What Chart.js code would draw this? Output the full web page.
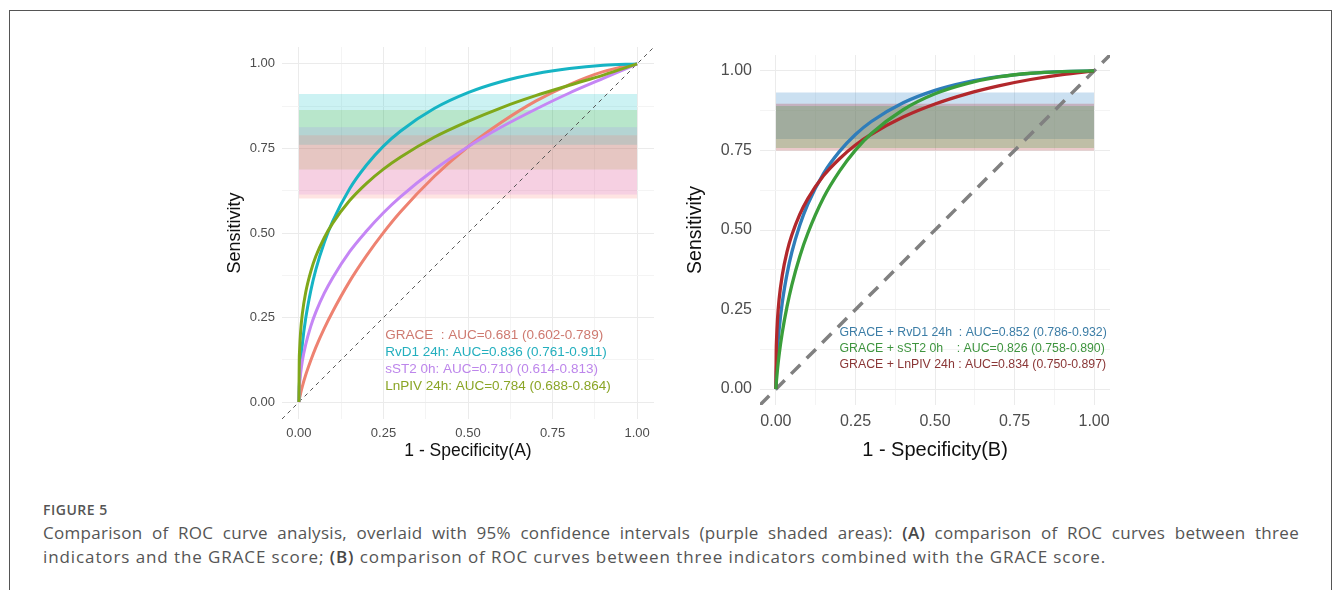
<!DOCTYPE html>
<html><head><meta charset="utf-8">
<script src="https://cdn.jsdelivr.net/npm/chart.js@4.4.1/dist/chart.umd.min.js"></script>
<style>
html,body{margin:0;padding:0;background:#fff;width:1333px;height:590px;overflow:hidden;position:relative;}
#frame{position:absolute;left:9px;top:10px;width:1321px;height:600px;border:1px solid #555;border-bottom:none;}
#wa{position:absolute;left:220px;top:30px;width:450px;height:440px;}
#wb{position:absolute;left:675px;top:30px;width:450px;height:440px;}
#fig{position:absolute;left:43px;top:500px;font:600 14px "Open Sans",sans-serif;color:#555;letter-spacing:0.5px;}
#cap{position:absolute;left:43px;top:521px;width:1256px;font:17px/24px "Open Sans",sans-serif;color:#555;letter-spacing:0.9px;}
#cap .l1{text-align:justify;text-align-last:justify;white-space:nowrap;letter-spacing:0.3px;}
#cap b{font-weight:600;color:#484848;}
</style>
</head><body>
<div id="frame"></div>
<div id="wa"><canvas id="ca" width="450" height="440"></canvas></div>
<div id="wb"><canvas id="cb" width="450" height="440"></canvas></div>
<div id="fig">FIGURE 5</div>
<div id="cap"><div class="l1">Comparison of ROC curve analysis, overlaid with 95% confidence intervals (purple shaded areas): <b>(A)</b> comparison of ROC curves between three</div><div>indicators and the GRACE score; <b>(B)</b> comparison of ROC curves between three indicators combined with the GRACE score.</div></div>
<script>
// ---------- data ----------
const tickValues = [0, 0.25, 0.5, 0.75, 1];
const tickLabels = ['0.00', '0.25', '0.50', '0.75', '1.00'];
const minorTickValues = [0.125, 0.375, 0.625, 0.875];

// Panel A (1 - specificity grid and sensitivity)
const namesA = ['GRACE  ', 'RvD1 24h', 'sST2 0h', 'LnPIV 24h'];
const aucA = [0.681, 0.836, 0.710, 0.784];
const ciLowA = [0.602, 0.761, 0.614, 0.688];
const ciHighA = [0.789, 0.911, 0.813, 0.864];
const fprA = [0, 0.001, 0.002, 0.005, 0.01, 0.02, 0.035, 0.05, 0.075, 0.1, 0.15, 0.2, 0.25, 0.3, 0.4, 0.5, 0.6, 0.7, 0.8, 0.9, 1];
const sensGRACE = [0, 0.007, 0.012, 0.026, 0.046, 0.080, 0.123, 0.162, 0.218, 0.268, 0.357, 0.433, 0.501, 0.562, 0.667, 0.755, 0.828, 0.890, 0.939, 0.977, 1];
const sensRvD1  = [0, 0.043, 0.066, 0.114, 0.170, 0.247, 0.329, 0.392, 0.472, 0.535, 0.631, 0.701, 0.757, 0.801, 0.868, 0.915, 0.948, 0.971, 0.9865, 0.996, 1];
const sensSST2  = [0, 0.037, 0.054, 0.085, 0.121, 0.170, 0.224, 0.266, 0.322, 0.368, 0.445, 0.506, 0.560, 0.607, 0.687, 0.755, 0.814, 0.866, 0.914, 0.957, 1];
const sensLnPIV = [0, 0.121, 0.153, 0.208, 0.260, 0.324, 0.386, 0.431, 0.486, 0.529, 0.596, 0.647, 0.689, 0.724, 0.783, 0.830, 0.871, 0.906, 0.937, 0.967, 1];

// Panel B
const namesB = ['GRACE + RvD1 24h  ', 'GRACE + sST2 0h    ', 'GRACE + LnPIV 24h '];
const aucB = [0.852, 0.826, 0.834];
const ciLowB = [0.786, 0.758, 0.750];
const ciHighB = [0.932, 0.890, 0.897];
const fprB = [0, 0.001, 0.002, 0.005, 0.01, 0.02, 0.035, 0.05, 0.075, 0.1, 0.15, 0.2, 0.25, 0.3, 0.4, 0.5, 0.6, 0.7, 0.8, 0.9, 1];
const sensBRvD1  = [0, 0.045, 0.070, 0.124, 0.186, 0.272, 0.362, 0.430, 0.515, 0.581, 0.678, 0.747, 0.800, 0.841, 0.900, 0.939, 0.965, 0.982, 0.9925, 0.998, 1];
const sensBSST2  = [0, 0.017, 0.030, 0.063, 0.108, 0.178, 0.260, 0.327, 0.417, 0.489, 0.602, 0.685, 0.751, 0.803, 0.878, 0.928, 0.960, 0.981, 0.9926, 0.998, 1];
const sensBLnPIV = [0, 0.119, 0.155, 0.219, 0.282, 0.358, 0.432, 0.484, 0.549, 0.598, 0.671, 0.724, 0.767, 0.801, 0.855, 0.896, 0.928, 0.953, 0.973, 0.9885, 1];

// ---------- helpers ----------
const FONT = '"Liberation Sans", Arial, sans-serif';
const pts = (xs, ys) => xs.map((x, i) => ({x: x, y: ys[i]}));
const fmt = v => v.toFixed(3);

function curve(label, xs, ys, color, width, order) {
  return {label, data: pts(xs, ys), borderColor: color, borderWidth: width, pointRadius: 0,
    fill: false, cubicInterpolationMode: 'monotone', order};
}
function band(lo, hi, color, order) {
  return {label: 'ci', data: [{x: 0, y: hi}, {x: 1, y: hi}], borderWidth: 0, borderColor: 'rgba(0,0,0,0)',
    pointRadius: 0, backgroundColor: color, fill: {value: lo}, order};
}
function diag(color, width, dash, order) {
  return {label: 'diag', data: [{x: -0.05, y: -0.05}, {x: 1.05, y: 1.05}], borderColor: color,
    borderWidth: width, borderDash: dash, pointRadius: 0, fill: false, order};
}
function textPlugin(lines, colors, ax, ay, font, step) {
  return {
    id: 'aucText',
    afterDatasetsDraw(chart) {
      const {ctx, scales: {x, y}} = chart;
      ctx.save();
      ctx.font = font;
      ctx.textBaseline = 'middle';
      ctx.textAlign = 'left';
      const px = x.getPixelForValue(ax), py = y.getPixelForValue(ay);
      lines.forEach((t, i) => { ctx.fillStyle = colors[i]; ctx.fillText(t, px, py + i * step); });
      ctx.restore();
    }
  };
}
function axes(o) {
  const allTicks = tickValues.concat(minorTickValues).sort((a, b) => a - b);
  const gridColor = c => (c.tick && tickValues.includes(c.tick.value)) ? '#ebebeb' : '#f4f4f4';
  const lbl = v => { const i = tickValues.indexOf(v); return i >= 0 ? tickLabels[i] : ''; };
  return {
    x: {type: 'linear', min: -0.05, max: 1.05,
      afterBuildTicks: s => { s.ticks = allTicks.map(v => ({value: v})); },
      afterFit: s => { s.height = o.xh; },
      ticks: {autoSkip: false, maxRotation: 0, padding: o.xpad, color: '#4d4d4d',
        font: {family: FONT, size: o.tick}, callback: lbl},
      grid: {color: gridColor, lineWidth: 1, drawTicks: false},
      border: {display: false},
      title: {display: true, text: o.xtitle, color: '#111', font: {family: FONT, size: o.xts},
        padding: {top: 0, bottom: o.xtp}}
    },
    y: {type: 'linear', min: -0.05, max: 1.05,
      afterBuildTicks: s => { s.ticks = allTicks.map(v => ({value: v})); },
      afterFit: s => { s.width = o.yw; },
      ticks: {autoSkip: false, padding: o.ypad, color: '#4d4d4d',
        font: {family: FONT, size: o.tick}, callback: lbl},
      grid: {color: gridColor, lineWidth: 1, drawTicks: false},
      border: {display: false},
      title: {display: true, text: 'Sensitivity', color: '#111', font: {family: FONT, size: o.yts},
        padding: {top: o.ytp, bottom: 0}}
    }
  };
}
const common = {responsive: false, animation: false, events: [], devicePixelRatio: 1,
  plugins: {legend: {display: false}, tooltip: {enabled: false}}};

// ---------- Panel A ----------
const colA = ['#EE8271', '#16B4C4', '#C586F5', '#80A81A'];
const bandA = ['rgba(248,118,109,0.2)', 'rgba(0,191,196,0.2)', 'rgba(199,124,255,0.2)', 'rgba(124,174,0,0.2)'];
const txtA = ['#CE7A70', '#23AFBE', '#BD86EB', '#8AA526'];
const seriesA = [sensGRACE, sensRvD1, sensSST2, sensLnPIV];
const dsA = [];
seriesA.forEach((s, i) => dsA.push(curve(namesA[i], fprA, s, colA[i], 3, 3 - i)));
dsA.push(diag('#555', 1, [4, 4], 5));
ciLowA.forEach((lo, i) => dsA.push(band(lo, ciHighA[i], bandA[i], 10 + i)));
new Chart(document.getElementById('ca'), {
  type: 'line',
  data: {datasets: dsA},
  options: Object.assign({}, common, {
    layout: {padding: {left: 0, top: 17, right: 16, bottom: 0}},
    scales: axes({xh: 51, yw: 62, xpad: 7, ypad: 7, tick: 13, xtitle: '1 - Specificity(A)', xts: 17.5, xtp: 8, yts: 18, ytp: 4})
  }),
  plugins: [textPlugin(namesA.map((n, i) => n + ': AUC=' + fmt(aucA[i]) + ' (' + fmt(ciLowA[i]) + '-' + fmt(ciHighA[i]) + ')'),
    txtA, 0.255, 0.198, '13.5px ' + FONT, 17)]
});

// ---------- Panel B ----------
const colB = ['#2F7DBA', '#3A9E3A', '#B2282C'];
const bandB = ['rgba(49,130,200,0.25)', 'rgba(58,158,58,0.25)', 'rgba(176,40,44,0.25)'];
const txtB = ['#3C7DA6', '#3E943E', '#8A3636'];
const seriesB = [sensBRvD1, sensBSST2, sensBLnPIV];
const orderB = [2, 0, 1];
const bandOrderB = [12, 10, 11];
const dsB = [];
seriesB.forEach((s, i) => dsB.push(curve(namesB[i], fprB, s, colB[i], 3.3, orderB[i])));
dsB.push(diag('#808080', 3.5, [13, 9], 5));
ciLowB.forEach((lo, i) => dsB.push(band(lo, ciHighB[i], bandB[i], bandOrderB[i])));
new Chart(document.getElementById('cb'), {
  type: 'line',
  data: {datasets: dsB},
  options: Object.assign({}, common, {
    layout: {padding: {left: 0, top: 25, right: 15, bottom: 0}},
    scales: axes({xh: 65, yw: 85, xpad: 7, ypad: 8, tick: 16, xtitle: '1 - Specificity(B)', xts: 20, xtp: 8, yts: 19.5, ytp: 9})
  }),
  plugins: [textPlugin(namesB.map((n, i) => n + ': AUC=' + fmt(aucB[i]) + ' (' + fmt(ciLowB[i]) + '-' + fmt(ciHighB[i]) + ')'),
    txtB, 0.2, 0.179, '12.3px ' + FONT, 16)]
});
</script>
</body></html>
